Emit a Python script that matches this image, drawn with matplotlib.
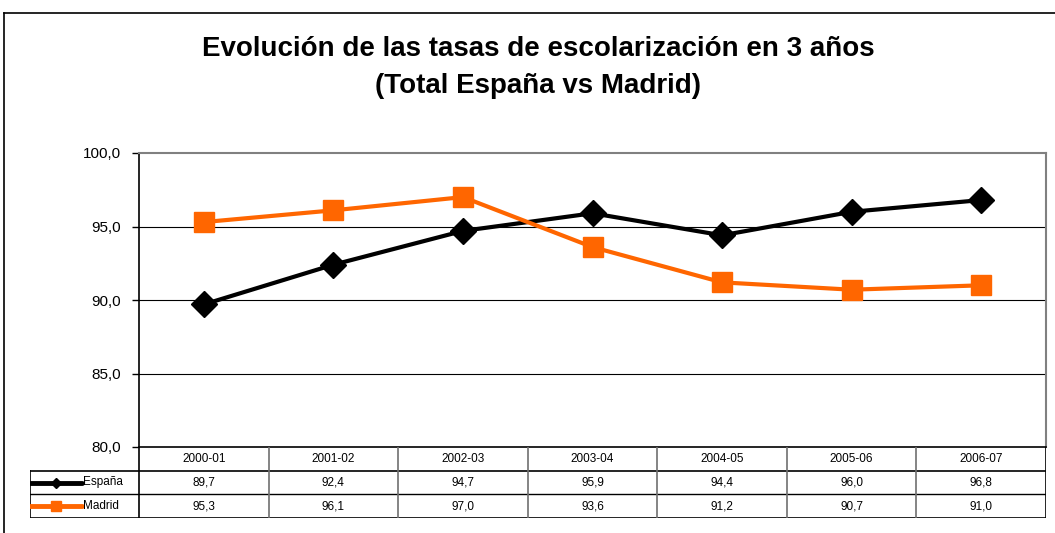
import numpy as np
import matplotlib
matplotlib.use('Agg')
import matplotlib.pyplot as plt
from matplotlib.lines import Line2D
from matplotlib.ticker import FuncFormatter

plt.rcParams['font.family'] = ['Liberation Sans', 'DejaVu Sans']

# data
cursos = ['2000-01', '2001-02', '2002-03', '2003-04', '2004-05', '2005-06', '2006-07']
espana = [89.7, 92.4, 94.7, 95.9, 94.4, 96.0, 96.8]
madrid = [95.3, 96.1, 97.0, 93.6, 91.2, 90.7, 91.0]
series_names = ['España', 'Madrid']
colors = ['#000000', '#FF6600']
markers = ['D', 's']

W, H = 1055, 533
fig = plt.figure(figsize=(W / 100, H / 100), dpi=100)

def box(x0, y0, x1, y1):
    # pixel box (top-left origin) -> figure fraction
    return [x0 / W, 1 - y1 / H, (x1 - x0) / W, (y1 - y0) / H]

# outer chart border (top and left visible)
fig.add_artist(Line2D([4 / W, 1], [1 - 13 / H, 1 - 13 / H], color='black', lw=1.2))
fig.add_artist(Line2D([4 / W, 4 / W], [0, 1 - 13 / H], color='black', lw=1.2))

fig.text(538 / W, 1 - 49 / H, 'Evolución de las tasas de escolarización en 3 años',
         ha='center', va='center', fontsize=20, fontweight='bold')
fig.text(538 / W, 1 - 86 / H, '(Total España vs Madrid)',
         ha='center', va='center', fontsize=20, fontweight='bold')

x = np.arange(len(cursos))
ax = fig.add_axes(box(139, 153, 1046, 447))
ax.set_xlim(-0.5, len(cursos) - 0.5)
ax.set_ylim(80, 100)
ax.set_yticks([80, 85, 90, 95, 100])
ax.yaxis.set_major_formatter(FuncFormatter(lambda v, p: f'{v:.1f}'.replace('.', ',')))
ax.tick_params(axis='y', labelsize=11, length=5, width=1, pad=8, direction='out')
ax.set_xticks([])
for gy in [85, 90, 95]:
    ax.axhline(gy, color='black', lw=0.8, zorder=1)
ax.spines['left'].set_color('black')
ax.spines['left'].set_linewidth(1.2)
ax.spines['bottom'].set_color('black')
ax.spines['bottom'].set_linewidth(1.2)
ax.spines['top'].set_color('#808080')
ax.spines['top'].set_linewidth(1.5)
ax.spines['right'].set_color('#808080')
ax.spines['right'].set_linewidth(1.5)

for vals, c, m in zip([espana, madrid], colors, markers):
    ax.plot(x, vals, color=c, lw=3, marker=m, markersize=13.5 if m == 'D' else 14,
            markeredgecolor=c, zorder=3, clip_on=False)

# data table below the plot
lab_w = 109 / ((1046 - 139) / len(cursos))
tab = fig.add_axes(box(30, 447, 1046, 518))
tab.set_xlim(-0.5 - lab_w, len(cursos) - 0.5)
tab.set_ylim(3, 0)
tab.axis('off')

# horizontal lines
tab.plot([-0.5 - lab_w, len(cursos) - 0.5], [1, 1], color='black', lw=1.2)
tab.plot([-0.5 - lab_w, len(cursos) - 0.5], [2, 2], color='black', lw=1)
tab.plot([-0.5 - lab_w, len(cursos) - 0.5], [3, 3], color='black', lw=1.2)
# vertical lines
tab.plot([-0.5 - lab_w, -0.5 - lab_w], [1, 3], color='black', lw=1.2)
tab.plot([-0.5, -0.5], [0, 3], color='black', lw=1.2)
for i in range(1, len(cursos)):
    tab.plot([i - 0.5, i - 0.5], [0, 3], color='#707070', lw=1.2)
tab.plot([len(cursos) - 0.5, len(cursos) - 0.5], [0, 3], color='black', lw=1.2)

for i, c in enumerate(cursos):
    tab.text(i, 0.5, c, ha='center', va='center', fontsize=8.5)
for r, (name, vals, c, m) in enumerate(zip(series_names, [espana, madrid], colors, markers)):
    yy = r + 1.5
    tab.plot([-0.5 - lab_w, -0.5 - lab_w + 0.4], [yy, yy], color=c, lw=3.5,
             solid_capstyle='round')
    tab.plot([-0.5 - lab_w + 0.2], [yy], color=c, marker=m,
             markersize=5 if m == 'D' else 7, lw=0)
    tab.text(-0.5 - lab_w + 0.41, yy, name, ha='left', va='center', fontsize=8.5)
    for i, v in enumerate(vals):
        tab.text(i, yy, f'{v:.1f}'.replace('.', ','), ha='center', va='center', fontsize=8.5)

fig.savefig('out.png', dpi=100)
